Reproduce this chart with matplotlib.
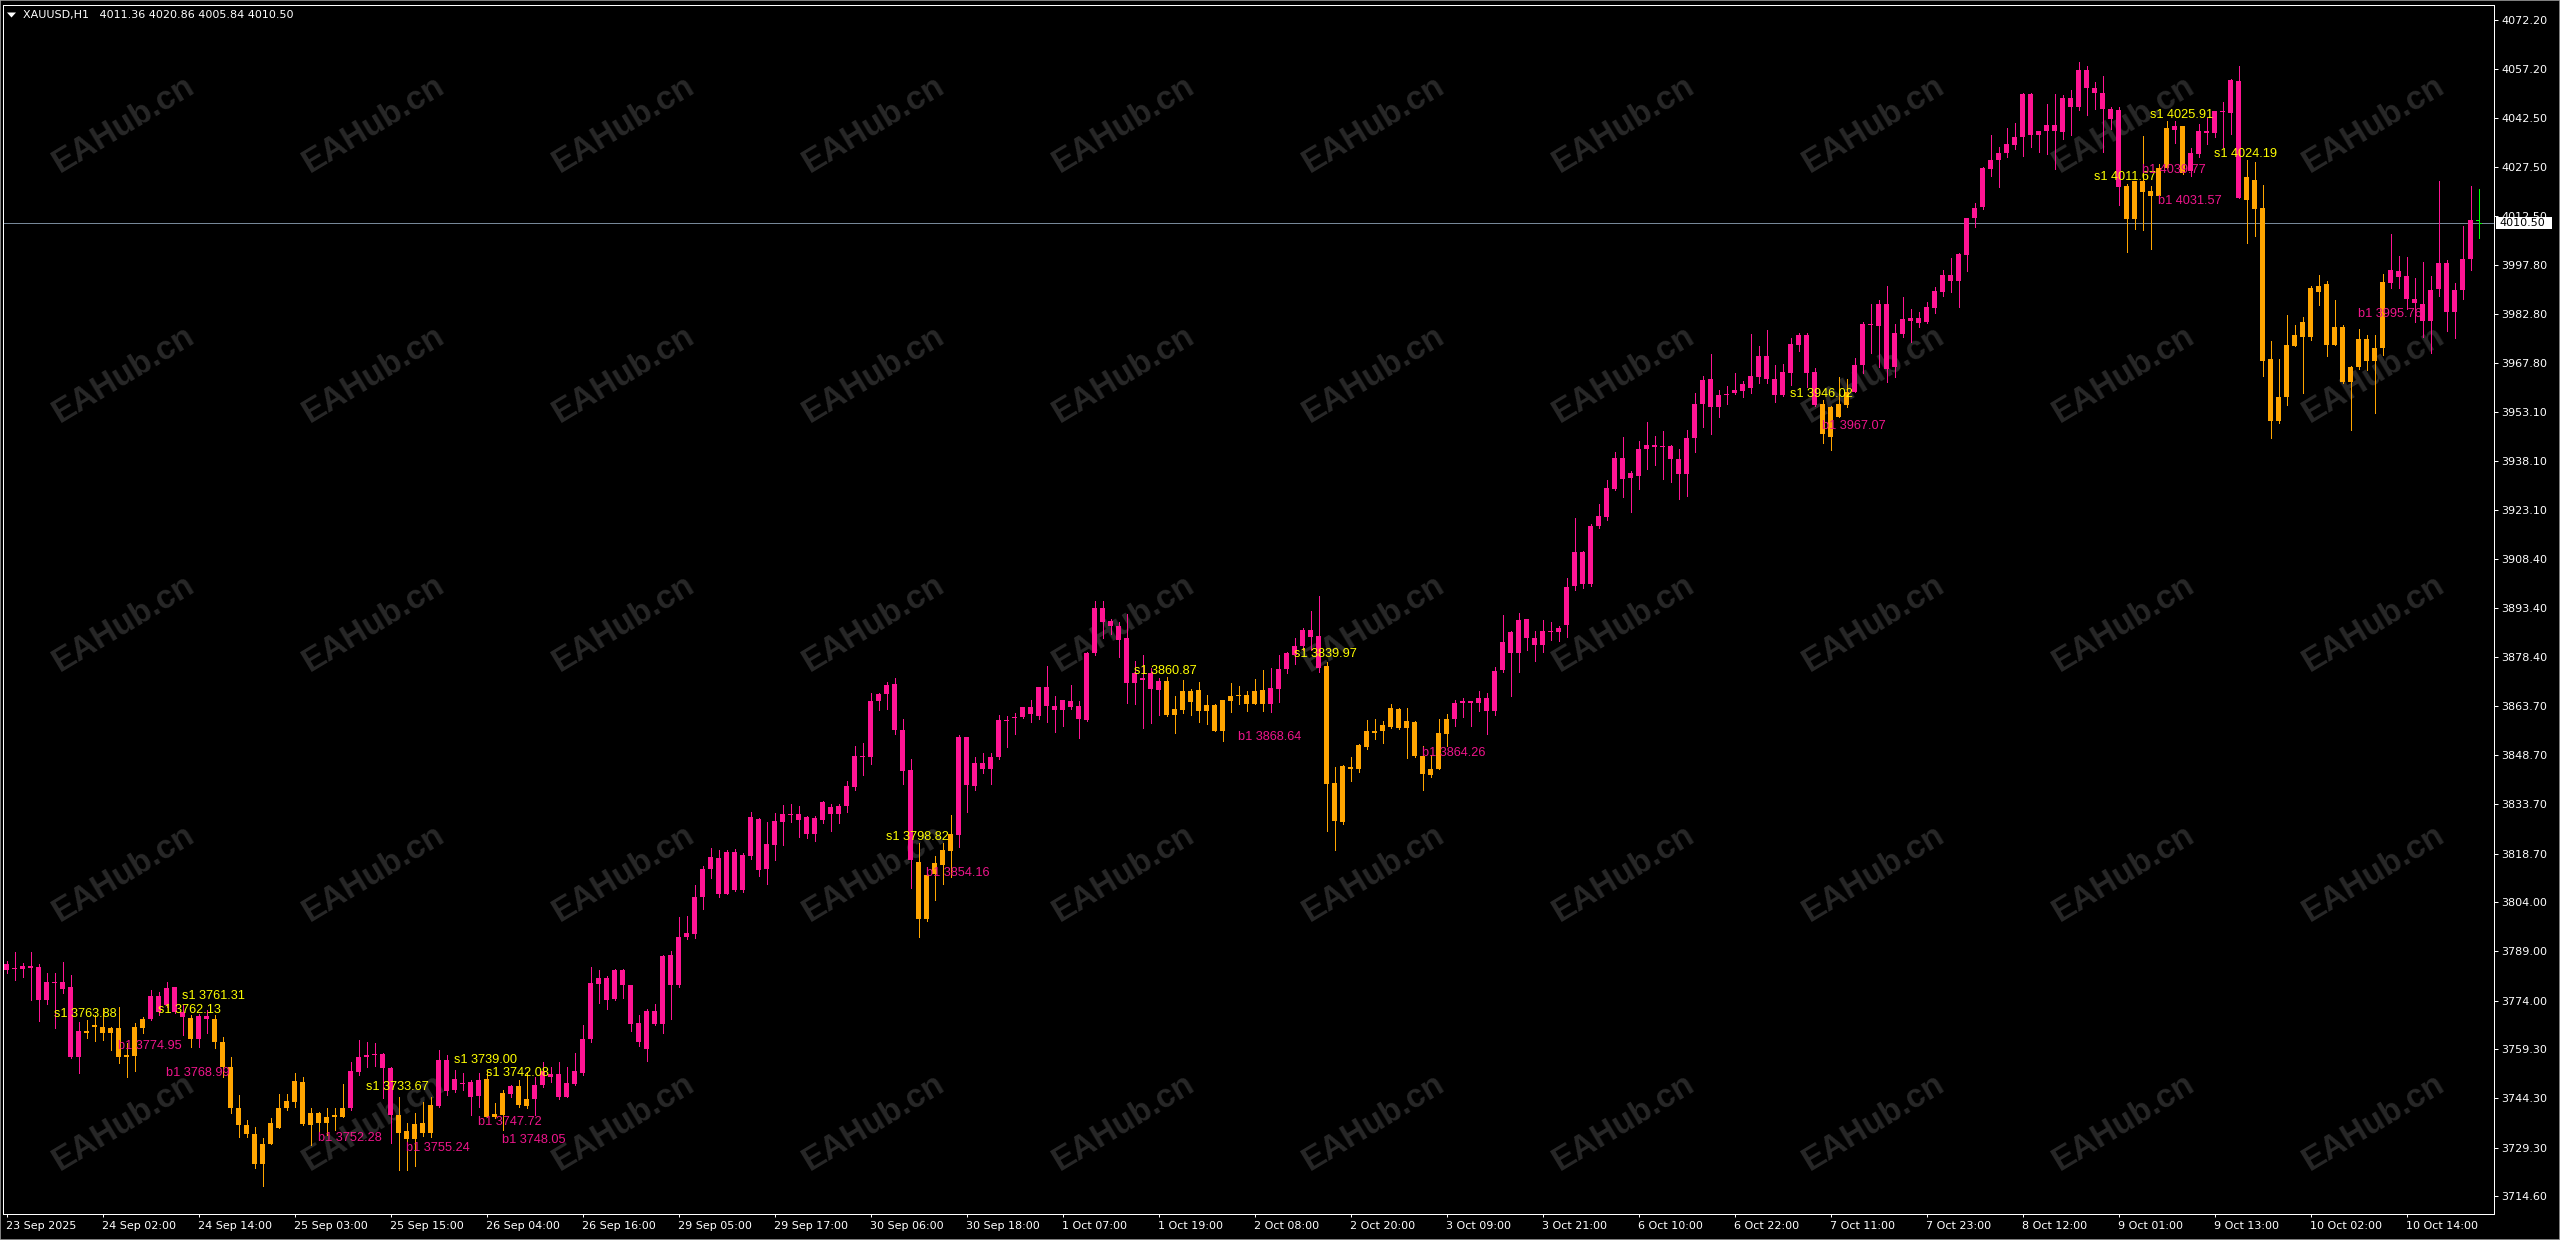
import matplotlib
matplotlib.use("Agg")
import matplotlib.pyplot as plt
from matplotlib.patches import Rectangle, Polygon

# ---------------- data ----------------
symbol = "XAUUSD,H1"

opens = [
3785.1,3783.5,3783.7,3784.5,3784.3,3774.2,3779.6,3779.8,3778.0,3757.0,
3764.9,3765.9,3765.9,3764.3,3765.6,3756.8,3757.3,3765.6,3768.4,3775.4,
3772.7,3778.0,3770.4,3768.8,3762.3,3769.3,3768.4,3761.5,3753.9,3741.3,
3736.2,3733.5,3724.3,3730.4,3735.2,3741.3,3743.3,3749.4,3736.2,3739.9,
3736.9,3738.5,3738.7,3741.3,3752.4,3756.8,3757.5,3757.8,3753.6,3739.2,
3734.5,3731.8,3736.7,3733.9,3742.1,3755.8,3746.8,3749.1,3749.4,3745.1,
3750.1,3738.7,3739.2,3745.6,3748.0,3742.1,3744.0,3748.4,3751.7,3751.7,
3744.8,3748.7,3751.9,3762.2,3779.0,3781.0,3774.6,3783.3,3778.7,3767.3,
3759.4,3770.8,3767.0,3787.9,3778.9,3793.3,3794.4,3805.5,3813.9,3817.4,
3806.5,3819.2,3807.6,3818.1,3829.2,3813.9,3821.3,3828.3,3830.8,3830.8,
3829.7,3824.8,3829.0,3833.0,3830.8,3833.3,3838.9,3848.4,3848.2,3865.0,
3867.2,3870.2,3856.3,3844.1,3816.3,3798.7,3812.6,3815.2,3819.6,3824.3,
3854.3,3839.3,3846.3,3844.4,3848.2,3859.2,3859.9,3860.4,3863.2,3860.6,
3869.3,3863.7,3862.3,3865.0,3863.7,3859.3,3879.7,3893.4,3889.5,3887.9,
3884.3,3870.5,3872.0,3873.5,3868.5,3871.3,3861.0,3862.4,3868.3,3862.1,
3863.9,3863.8,3856.1,3865.2,3866.5,3867.1,3864.3,3868.5,3864.3,3868.7,
3874.8,3879.2,3882.0,3886.8,3884.9,3875.7,3840.3,3828.2,3845.1,3844.4,
3851.2,3856.1,3856.1,3857.2,3862.8,3856.9,3858.8,3848.4,3842.6,3844.4,
3855.0,3859.5,3864.6,3865.0,3864.6,3866.1,3862.1,3874.6,3886.2,3879.8,
3890.1,3884.2,3882.3,3886.4,3886.0,3888.2,3900.0,3910.3,3900.8,3918.3,
3921.0,3929.5,3939.0,3932.9,3933.5,3941.8,3942.9,3942.4,3942.6,3938.7,
3934.3,3945.0,3955.3,3962.9,3954.4,3958.1,3958.7,3959.5,3960.2,3963.8,
3970.0,3962.9,3958.2,3965.0,3973.4,3976.4,3965.3,3955.4,3945.5,3951.6,
3955.1,3959.2,3967.3,3979.8,3979.2,3985.9,3966.8,3976.7,3980.8,3981.5,
3980.5,3984.5,3989.6,3994.7,3992.7,4000.8,4011.9,4015.3,4026.8,4029.6,
4031.9,4034.2,4036.5,4049.7,4037.3,4038.5,4040.3,4038.3,4048.4,4045.9,
4057.0,4051.4,4050.1,4045.1,4044.9,4021.7,4011.7,4023.3,4020.2,4018.8,
4027.1,4038.8,4040.0,4026.4,4031.5,4038.6,4038.0,4044.3,4044.0,4053.8,
4017.5,4023.6,4015.0,3969.0,3950.4,3957.7,3973.1,3975.7,3975.7,3989.6,
3991.9,3973.4,3979.0,3962.2,3966.6,3975.1,3968.6,3972.4,3992.3,3996.0,
3994.4,3987.4,3985.9,3980.8,3990.3,3998.2,3983.5,3990.1,3999.4,4011.36]

highs = [
3786.0,3788.9,3785.4,3788.9,3785.1,3782.3,3782.3,3785.9,3781.8,3767.6,
3768.1,3769.6,3771.7,3766.1,3772.2,3761.0,3767.1,3769.1,3777.3,3776.7,
3779.8,3778.3,3772.7,3769.6,3769.9,3771.2,3769.6,3763.0,3757.0,3745.3,
3737.7,3735.7,3732.3,3738.2,3745.6,3745.6,3751.9,3750.9,3741.3,3740.2,
3741.3,3741.3,3748.6,3755.4,3762.0,3761.5,3761.0,3758.0,3753.9,3744.8,
3736.9,3739.7,3743.1,3744.8,3759.0,3757.5,3752.9,3751.9,3749.9,3751.9,
3752.4,3743.0,3746.8,3748.4,3749.9,3752.4,3750.9,3755.4,3753.9,3755.4,
3753.9,3758.0,3766.6,3784.1,3783.3,3781.6,3783.7,3783.7,3778.7,3769.6,
3771.6,3772.9,3787.9,3789.0,3799.3,3799.8,3809.1,3815.0,3820.5,3819.7,
3819.9,3820.2,3818.8,3831.5,3829.4,3828.3,3831.1,3833.5,3833.7,3833.3,
3830.2,3830.2,3834.6,3833.7,3833.7,3840.9,3851.4,3852.5,3867.7,3867.7,
3871.0,3872.1,3859.6,3847.4,3821.8,3814.5,3818.1,3821.8,3830.4,3854.7,
3854.3,3848.2,3849.3,3849.3,3861.0,3860.7,3861.5,3863.2,3865.5,3869.3,
3875.9,3866.6,3865.5,3869.9,3865.0,3880.0,3895.6,3895.4,3890.1,3889.0,
3891.7,3877.4,3879.0,3875.1,3872.0,3872.4,3866.5,3871.6,3868.7,3870.9,
3866.9,3864.1,3865.4,3870.5,3869.8,3868.2,3871.8,3874.6,3875.1,3879.0,
3880.1,3884.2,3887.3,3892.6,3897.0,3877.1,3845.1,3845.8,3848.1,3851.9,
3859.4,3859.7,3859.1,3864.3,3863.0,3863.0,3859.1,3851.4,3848.6,3859.7,
3861.3,3865.4,3866.1,3865.0,3868.2,3867.6,3875.4,3891.2,3886.4,3891.9,
3890.1,3886.4,3889.7,3889.3,3887.9,3902.6,3920.7,3910.8,3918.8,3924.9,
3932.4,3940.9,3945.3,3935.0,3944.2,3950.1,3945.7,3947.2,3943.1,3941.7,
3947.5,3958.9,3964.1,3970.6,3959.7,3960.9,3965.0,3962.5,3976.7,3973.1,
3977.9,3967.3,3967.6,3975.4,3977.1,3977.1,3966.3,3956.7,3954.8,3963.6,
3963.0,3969.3,3980.5,3985.9,3987.1,3991.3,3979.8,3987.9,3984.2,3983.5,
3986.6,3990.9,3996.2,3999.7,4001.3,4011.9,4016.7,4027.4,4037.3,4033.5,
4039.3,4041.0,4049.9,4050.1,4038.6,4046.7,4049.7,4049.4,4050.9,4059.3,
4058.2,4053.5,4055.2,4045.7,4045.7,4022.2,4023.3,4037.0,4021.7,4028.3,
4041.6,4041.5,4040.0,4033.2,4040.6,4042.3,4044.4,4047.4,4054.2,4058.2,
4029.6,4029.0,4022.0,3974.6,3969.0,3982.5,3979.5,3981.8,3991.3,3994.7,
3992.9,3987.1,3979.5,3967.0,3978.1,3976.4,3976.4,3995.0,4007.1,4000.5,
4000.0,3993.7,3998.7,3994.4,4023.3,3999.2,3992.3,4009.6,4021.7,4020.86]

lows = [
3782.5,3780.3,3781.3,3774.2,3767.8,3773.0,3765.6,3776.2,3756.5,3752.1,
3762.5,3761.8,3762.0,3759.0,3755.1,3750.9,3752.7,3764.1,3768.1,3769.6,
3772.2,3770.2,3763.6,3760.0,3760.0,3764.3,3759.5,3750.9,3739.9,3732.6,
3732.6,3723.0,3717.6,3730.4,3735.2,3740.8,3741.8,3736.2,3730.1,3733.1,
3733.1,3734.7,3738.7,3740.8,3751.4,3753.9,3754.1,3744.3,3730.8,3722.5,
3722.5,3723.7,3732.8,3732.6,3741.8,3745.3,3746.3,3746.8,3739.2,3741.8,
3738.7,3738.2,3734.7,3744.8,3741.8,3741.3,3739.2,3747.8,3749.4,3744.0,
3744.6,3748.4,3751.4,3761.5,3773.2,3771.6,3774.3,3774.9,3764.9,3760.2,
3755.5,3766.7,3764.2,3768.3,3778.1,3792.8,3793.0,3801.8,3811.2,3805.5,
3806.3,3807.4,3806.9,3817.2,3811.8,3809.6,3816.7,3821.3,3828.3,3823.9,
3823.5,3822.6,3828.1,3825.7,3828.1,3831.3,3838.1,3842.7,3846.0,3862.3,
3862.8,3855.2,3840.0,3808.3,3793.5,3798.2,3804.7,3809.4,3811.6,3820.7,
3831.3,3838.1,3843.1,3840.0,3847.4,3851.1,3855.0,3860.1,3858.7,3859.6,
3858.7,3855.8,3857.6,3862.6,3853.8,3859.0,3879.1,3884.3,3885.6,3878.5,
3864.6,3864.1,3856.9,3858.3,3860.8,3860.6,3855.3,3861.6,3860.8,3858.8,
3858.0,3856.1,3853.0,3861.9,3864.3,3862.1,3864.3,3862.1,3861.9,3864.9,
3873.5,3876.3,3880.7,3880.7,3873.8,3825.6,3819.9,3827.6,3840.9,3843.6,
3850.6,3853.6,3852.5,3856.9,3856.6,3847.7,3848.1,3838.1,3842.0,3844.4,
3851.4,3857.4,3860.2,3857.4,3862.1,3855.0,3860.8,3874.0,3866.5,3874.0,
3880.7,3877.4,3880.1,3883.8,3883.4,3884.5,3898.9,3899.5,3900.0,3917.7,
3920.3,3929.3,3927.3,3922.7,3929.5,3935.7,3936.8,3932.6,3931.7,3926.5,
3927.6,3940.9,3948.3,3946.3,3951.4,3955.4,3958.5,3957.7,3958.9,3961.9,
3961.7,3956.2,3957.9,3961.2,3971.7,3960.7,3954.8,3943.7,3941.5,3951.4,
3954.6,3959.2,3964.8,3970.9,3966.8,3962.2,3963.6,3975.9,3974.4,3978.9,
3980.2,3983.2,3988.3,3989.6,3984.8,3996.0,4009.2,4014.6,4024.8,4021.5,
4030.5,4032.9,4030.9,4033.7,4032.2,4031.5,4026.8,4035.9,4037.3,4044.9,
4043.3,4045.1,4032.2,4039.0,4016.0,4001.6,4008.7,4008.4,4002.6,4018.8,
4027.1,4034.7,4025.4,4024.8,4030.5,4034.5,4036.5,4033.7,4037.6,4018.0,
4004.3,4006.6,3964.0,3945.0,3949.8,3955.1,3973.1,3958.9,3974.9,3985.5,
3970.0,3973.4,3961.9,3947.5,3966.0,3965.8,3952.8,3970.3,3990.6,3990.6,
3984.2,3980.5,3975.7,3970.9,3988.3,3977.7,3975.4,3987.3,3996.2,4005.84]

closes = [
3783.3,3784.0,3784.5,3783.9,3774.2,3779.8,3779.3,3777.5,3756.8,3764.8,
3764.1,3766.6,3764.1,3765.8,3756.8,3757.5,3765.9,3768.4,3775.4,3770.4,
3777.8,3770.7,3768.9,3762.3,3769.3,3768.3,3761.5,3753.9,3741.3,3736.2,
3733.4,3724.3,3730.4,3736.9,3741.3,3743.5,3749.6,3736.4,3739.9,3736.9,
3738.7,3739.2,3741.5,3752.6,3757.0,3757.5,3757.8,3753.4,3739.2,3733.9,
3731.8,3736.4,3733.7,3742.3,3755.8,3746.6,3750.1,3748.6,3744.8,3749.9,
3738.7,3739.5,3746.0,3748.0,3742.3,3744.1,3748.4,3752.6,3750.9,3744.8,
3748.9,3752.6,3762.2,3779.5,3781.0,3774.3,3783.3,3778.9,3767.0,3761.3,
3770.8,3767.0,3787.7,3778.9,3793.3,3794.6,3805.5,3813.9,3817.6,3806.3,
3819.2,3807.6,3818.3,3829.7,3813.7,3821.6,3828.6,3830.8,3830.5,3829.0,
3824.6,3829.4,3834.4,3830.8,3833.3,3839.3,3848.4,3848.2,3865.0,3867.2,
3869.9,3856.3,3843.8,3816.7,3798.9,3812.3,3815.9,3819.7,3824.6,3854.3,
3839.5,3846.3,3844.4,3848.2,3859.3,3859.0,3860.3,3863.2,3861.2,3869.3,
3863.7,3862.3,3865.3,3863.4,3859.6,3879.7,3893.4,3889.1,3887.9,3883.8,
3870.7,3873.5,3871.6,3868.9,3871.3,3861.0,3862.8,3868.3,3864.7,3868.5,
3862.1,3856.1,3865.4,3866.5,3867.1,3864.3,3868.2,3864.3,3869.1,3874.8,
3879.6,3882.0,3886.8,3884.5,3875.1,3840.0,3828.5,3845.5,3844.4,3851.7,
3856.1,3855.5,3857.7,3863.0,3856.9,3859.1,3848.4,3842.9,3844.4,3855.5,
3859.7,3864.6,3865.0,3864.6,3866.1,3862.1,3874.3,3883.1,3879.8,3889.7,
3884.2,3882.3,3886.4,3886.0,3887.3,3899.7,3910.3,3900.8,3918.3,3921.3,
3929.9,3939.0,3932.6,3934.6,3941.7,3942.9,3942.4,3942.8,3938.7,3934.3,
3945.0,3955.3,3962.7,3954.4,3958.2,3958.5,3959.7,3961.5,3964.0,3970.0,
3962.9,3958.2,3965.3,3973.7,3976.4,3965.0,3955.1,3946.3,3954.4,3955.4,
3959.2,3967.3,3979.8,3979.4,3985.9,3966.0,3976.9,3981.2,3981.5,3980.2,
3984.8,3989.9,3994.7,3992.7,4001.1,4011.9,4015.0,4027.1,4029.6,4031.9,
4034.5,4036.5,4049.7,4037.3,4038.5,4040.3,4038.6,4048.4,4045.9,4057.0,
4051.4,4050.1,4045.1,4042.0,4021.5,4011.7,4023.3,4020.0,4018.8,4027.1,
4039.3,4040.0,4025.8,4031.7,4038.6,4037.8,4044.4,4044.5,4054.0,4018.0,
4024.6,4014.7,3968.6,3950.4,3957.5,3973.4,3976.4,3980.5,3990.6,3991.3,
3973.4,3979.0,3962.2,3966.6,3975.1,3968.6,3972.4,3992.4,3996.2,3994.0,
3987.3,3986.1,3980.8,3990.1,3998.2,3983.5,3990.1,3999.4,4011.36,4010.50]

# indicator state per bar, as runs of (state, number of bars)
trend_runs = [("up", 10), ("dn", 8), ("up", 5), ("dn", 1), ("up", 2), ("dn", 17),
              ("up", 6), ("dn", 5), ("up", 6), ("dn", 3), ("up", 1), ("dn", 2),
              ("up", 48), ("dn", 5), ("up", 26), ("dn", 13), ("up", 7), ("dn", 16),
              ("up", 46), ("dn", 4), ("up", 34), ("dn", 6), ("up", 1), ("dn", 1),
              ("up", 7), ("dn", 18), ("up", 11), ("live", 1)]

price_ticks = [4072.20, 4057.20, 4042.50, 4027.50, 4012.50, 3997.80, 3982.80,
               3967.80, 3953.10, 3938.10, 3923.10, 3908.40, 3893.40, 3878.40,
               3863.70, 3848.70, 3833.70, 3818.70, 3804.00, 3789.00, 3774.00,
               3759.30, 3744.30, 3729.30, 3714.60]

time_labels = ["23 Sep 2025", "24 Sep 02:00", "24 Sep 14:00", "25 Sep 03:00",
               "25 Sep 15:00", "26 Sep 04:00", "26 Sep 16:00", "29 Sep 05:00",
               "29 Sep 17:00", "30 Sep 06:00", "30 Sep 18:00", "1 Oct 07:00",
               "1 Oct 19:00", "2 Oct 08:00", "2 Oct 20:00", "3 Oct 09:00",
               "3 Oct 21:00", "6 Oct 10:00", "6 Oct 22:00", "7 Oct 11:00",
               "7 Oct 23:00", "8 Oct 12:00", "9 Oct 01:00", "9 Oct 13:00",
               "10 Oct 02:00", "10 Oct 14:00"]
time_label_bars = [0, 12, 24, 36, 48, 60, 72, 84, 96, 108, 120, 132, 144, 156,
                   168, 180, 192, 204, 216, 228, 240, 252, 264, 276, 288, 300]

sig_text = ["s1 3763.88", "s1 3761.31", "s1 3762.13", "b1 3774.95", "b1 3768.99",
            "s1 3733.67", "s1 3739.00", "s1 3742.08", "b1 3752.28", "b1 3755.24",
            "b1 3747.72", "b1 3748.05", "s1 3798.82", "b1 3854.16", "s1 3860.87",
            "s1 3839.97", "b1 3868.64", "b1 3864.26", "s1 3946.02", "b1 3967.07",
            "s1 4025.91", "s1 4011.67", "b1 4039.77", "b1 4031.57", "s1 4024.19",
            "b1 3995.76"]
sig_bar = [6, 22, 19, 14, 20, 45, 56, 60, 39, 50, 59, 62, 110, 115, 141, 161,
           154, 177, 223, 227, 268, 261, 267, 269, 276, 294]
sig_level = [3770.3, 3776.0, 3771.5, 3760.8, 3752.6, 3748.1, 3756.3, 3752.4,
             3732.85, 3729.8, 3737.7, 3732.2, 3824.25, 3813.4, 3874.85, 3879.8,
             3854.8, 3849.9, 3959.0, 3949.35, 4043.8, 4024.85, 4027.1, 4017.8,
             4032.0, 3983.3]

watermark = "EAHub.cn"

# ---------------- styling ----------------
W, H = 2560, 1240
AX_L, AX_R, AX_T, AX_B = 3, 2494, 5, 1214
PINK = "#FF1493"
ORANGE = "#FFA500"
GREEN = "#00FF00"
YELLOW = "#FFFF00"
SIGPINK = "#F0158C"
LINE_W = 0.72   # one pixel at 100 dpi

state = []
for s, n in trend_runs:
    state += [s] * n
n_bars = len(closes)

fig = plt.figure(figsize=(W / 100, H / 100), dpi=100, facecolor="black")
ax = fig.add_axes([AX_L / W, (H - AX_B) / H, (AX_R - AX_L) / W, (AX_B - AX_T) / H])
ax.set_facecolor("black")
# half-pixel shift so that every bar centre lies on a pixel centre
ax.set_xlim(-0.375 - 0.0625, 311.0 - 0.0625)
ax.set_ylim(3709.12, 4076.78)

# watermark grid
for r in range(5):
    py = 125 + 249.5 * r
    for k in range(10):
        px = 124 + 250 * k
        ax.text((px - AX_L) / (AX_R - AX_L), 1 - (py - AX_T) / (AX_B - AX_T), watermark,
                transform=ax.transAxes, rotation=31, rotation_mode="anchor",
                ha="center", va="center", fontsize=24, fontweight="bold",
                family="Liberation Sans", color="#282828", zorder=0.1, clip_on=False)

# current price line
last_close = closes[-1]
ax.axhline(last_close, color="#778899", lw=LINE_W, zorder=1)

# candles
for i in range(n_bars):
    o, h, l, c = opens[i], highs[i], lows[i], closes[i]
    if state[i] == "live":
        ax.vlines(i, l, h, colors=GREEN, lw=LINE_W, antialiased=False, zorder=2)
        ax.hlines(o, i - 0.3, i, colors=GREEN, lw=LINE_W, antialiased=False, zorder=2)
        ax.hlines(c, i, i + 0.3, colors=GREEN, lw=LINE_W, antialiased=False, zorder=2)
        continue
    col = PINK if state[i] == "up" else ORANGE
    ax.vlines(i, l, h, colors=col, lw=LINE_W, antialiased=False, zorder=2)
    lo, hi = min(o, c), max(o, c)
    hgt = max(hi - lo, 0.32)
    mid = (lo + hi) / 2
    ax.bar(i, hgt, bottom=mid - hgt / 2, width=0.625, color=col, linewidth=0,
           antialiased=False, zorder=2.1)

# signal labels
for t, b, lev in zip(sig_text, sig_bar, sig_level):
    col = YELLOW if t.startswith("s") else SIGPINK
    ax.annotate(t, (b, lev), xytext=(0, -3.3), textcoords="offset points",
                ha="left", va="baseline", fontsize=9.2, family="Liberation Sans",
                color=col, zorder=4)

# axes / ticks
for sp in ax.spines.values():
    sp.set_color("white")
    sp.set_linewidth(LINE_W)
ax.yaxis.tick_right()
ax.set_yticks(price_ticks)
ax.set_yticklabels([f"{v:.2f}" for v in price_ticks])
ax.set_xticks(time_label_bars)
ax.set_xticklabels(time_labels, ha="left")
ax.tick_params(axis="y", direction="out", length=2.9, width=LINE_W, color="white",
               labelcolor="white", labelsize=8, pad=2.2)
ax.tick_params(axis="x", direction="out", length=2.2, width=LINE_W, color="white",
               labelcolor="white", labelsize=8, pad=2.5)
for lab in ax.get_xticklabels() + ax.get_yticklabels():
    lab.set_family("DejaVu Sans")

# current price box on the scale
fig.patches.append(Rectangle((2496 / W, 1 - 229 / H), 56 / W, 12 / H,
                             transform=fig.transFigure, facecolor="white",
                             edgecolor="none", zorder=5))
fig.text(2499 / W, 1 - 223 / H, f"{last_close:.2f}", color="black", fontsize=8,
         family="DejaVu Sans", ha="left", va="center", zorder=6)

# header
fig.patches.append(Polygon([(7 / W, 1 - 12.5 / H), (16 / W, 1 - 12.5 / H),
                            (11.5 / W, 1 - 17.5 / H)], closed=True,
                           transform=fig.transFigure, facecolor="white",
                           edgecolor="none", zorder=5))
header = f"{symbol}   {opens[-1]:.2f} {highs[-1]:.2f} {lows[-1]:.2f} {closes[-1]:.2f}"
fig.text(23 / W, 1 - 15 / H, header, color="white", fontsize=8,
         family="DejaVu Sans", ha="left", va="center", zorder=6)

# window frame
fig.patches.append(Rectangle((0, 0), 1, 1, transform=fig.transFigure,
                             facecolor="none", edgecolor="#9a9a9a", lw=1.2, zorder=7))

fig.savefig("out.png", dpi=100, facecolor="black")
